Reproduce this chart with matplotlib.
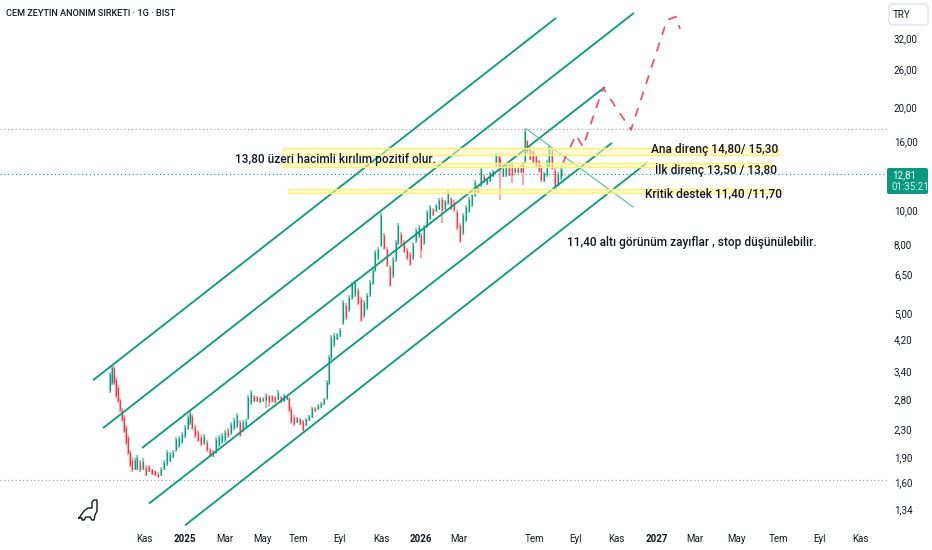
import matplotlib
matplotlib.use("Agg")
import matplotlib.pyplot as plt
from matplotlib.patches import Rectangle, FancyBboxPatch
from matplotlib.lines import Line2D
from matplotlib.transforms import Affine2D

WIDTH, HEIGHT = 932, 550

# price scale of the chart
y_ticks = [32, 26, 20, 16, 10, 8, 6.5, 5, 4.2, 3.4, 2.8, 2.3, 1.9, 1.6, 1.34]
y_labels = ["32,00", "26,00", "20,00", "16,00", "10,00", "8,00", "6,50", "5,00",
            "4,20", "3,40", "2,80", "2,30", "1,90", "1,60", "1,34"]

# time scale, in bar slots from the left edge
x_ticks = [144, 185, 225, 262, 298, 340, 381, 421, 459, 534, 575, 616, 657, 695, 737, 778, 819, 860]
x_labels = ["Kas", "2025", "Mar", "May", "Tem", "Eyl", "Kas", "2026", "Mar",
            "Tem", "Eyl", "Kas", "2027", "Mar", "May", "Tem", "Eyl", "Kas"]

candle_x = [110, 112, 114, 116, 118, 120, 122, 124, 126, 128,
            130, 132, 135, 137, 140, 143, 146, 149, 152, 155,
            158, 161, 164, 167, 170, 173, 176, 179, 182, 185,
            188, 190, 192, 195, 198, 201, 204, 207, 210, 213,
            216, 219, 222, 225, 228, 231, 234, 237, 240, 243,
            246, 248, 251, 254, 257, 260, 263, 266, 269, 272,
            275, 278, 281, 284, 287, 289, 291, 294, 297, 300,
            303, 306, 309, 312, 315, 318, 321, 324, 327, 329,
            331, 334, 337, 340, 343, 346, 349, 352, 355, 358,
            361, 364, 367, 370, 373, 375, 378, 381, 384, 387,
            390, 393, 396, 398, 401, 404, 407, 410, 413, 416,
            419, 421, 424, 427, 430, 433, 436, 439, 442, 445,
            448, 451, 454, 457, 460, 463, 466, 469, 472, 475,
            478, 481, 484, 487, 490, 493, 496, 499, 500, 503,
            506, 509, 512, 515, 518, 521, 523, 525, 527, 530,
            533, 536, 539, 541, 544, 547, 549, 552, 555, 558,
            561, 562]
candle_high = [3.37, 3.53, 3.51, 3.26, 3.09, 2.83, 2.65, 2.52, 2.36, 2.20,
               1.99, 1.90, 1.89, 1.93, 1.86, 1.89, 1.80, 1.80, 1.76, 1.74,
               1.72, 1.78, 1.86, 1.99, 1.97, 1.99, 2.17, 2.19, 2.25, 2.36,
               2.52, 2.59, 2.54, 2.36, 2.28, 2.20, 2.22, 2.13, 2.02, 1.99,
               2.17, 2.20, 2.23, 2.28, 2.31, 2.41, 2.47, 2.56, 2.44, 2.44,
               2.45, 2.89, 2.99, 2.89, 2.87, 2.85, 2.85, 2.93, 2.89, 2.89,
               2.87, 2.99, 2.87, 2.91, 2.87, 2.85, 2.67, 2.52, 2.49, 2.47,
               2.44, 2.47, 2.52, 2.67, 2.67, 2.72, 2.76, 2.83, 3.19, 3.78,
               4.33, 4.39, 4.39, 4.53, 5.48, 5.37, 5.66, 6.19, 6.27, 5.94,
               5.59, 5.48, 5.74, 6.27, 6.79, 7.67, 7.82, 9.84, 8.60, 7.82,
               6.93, 7.31, 8.20, 9.20, 8.66, 8.20, 7.77, 7.57, 8.09, 8.90,
               9.08, 8.60, 9.08, 10.04, 10.39, 10.18, 10.46, 10.89, 10.96, 10.75,
               11.49, 10.96, 10.75, 10.04, 9.20, 9.84, 10.39, 10.96, 11.26, 12.30,
               11.73, 13.42, 12.72, 12.47, 12.98, 13.15, 14.75, 14.55, 14.36, 13.42,
               13.78, 13.78, 13.87, 13.42, 13.42, 13.60, 13.87, 17.33, 16.10, 15.35,
               15.05, 14.55, 14.07, 13.60, 12.98, 14.07, 15.56, 15.25, 13.33, 12.98,
               13.42, 13.60]
candle_low = [2.93, 3.09, 3.09, 2.83, 2.74, 2.57, 2.41, 2.23, 2.06, 1.93,
              1.78, 1.72, 1.74, 1.74, 1.72, 1.74, 1.67, 1.72, 1.69, 1.67,
              1.65, 1.67, 1.74, 1.79, 1.84, 1.89, 1.97, 2.02, 2.07, 2.16,
              2.28, 2.36, 2.28, 2.16, 2.10, 2.05, 2.06, 1.97, 1.91, 1.90,
              1.94, 2.03, 2.07, 2.10, 2.16, 2.20, 2.28, 2.31, 2.17, 2.25,
              2.31, 2.44, 2.70, 2.76, 2.76, 2.74, 2.76, 2.65, 2.67, 2.76,
              2.74, 2.79, 2.74, 2.76, 2.79, 2.57, 2.38, 2.34, 2.39, 2.36,
              2.26, 2.34, 2.42, 2.47, 2.57, 2.61, 2.65, 2.70, 2.79, 3.09,
              3.66, 3.99, 4.18, 4.27, 4.63, 4.79, 5.05, 5.48, 5.59, 5.30,
              4.72, 4.85, 5.12, 5.59, 6.06, 6.61, 7.17, 7.82, 7.67, 6.84,
              5.98, 6.35, 7.07, 7.93, 7.93, 7.51, 7.17, 6.88, 7.17, 8.04,
              8.32, 7.26, 7.93, 8.90, 9.39, 9.65, 9.91, 10.04, 9.20, 10.04,
              10.39, 10.04, 9.91, 8.78, 8.04, 8.49, 9.26, 9.84, 10.25, 10.96,
              11.26, 11.73, 12.05, 11.89, 12.13, 12.55, 13.42, 13.33, 10.75, 12.55,
              12.55, 12.63, 12.05, 12.89, 12.89, 12.89, 11.89, 13.78, 14.75, 14.07,
              13.78, 13.42, 12.98, 12.13, 12.13, 12.55, 13.42, 13.15, 11.65, 11.81,
              12.30, 12.63]
candle_open = [2.97, 3.13, 3.46, 3.21, 3.05, 2.79, 2.61, 2.49, 2.33, 2.17,
               1.97, 1.87, 1.76, 1.76, 1.84, 1.76, 1.78, 1.79, 1.75, 1.73,
               1.70, 1.68, 1.75, 1.81, 1.85, 1.90, 1.99, 2.05, 2.10, 2.19,
               2.31, 2.39, 2.50, 2.33, 2.25, 2.17, 2.09, 2.10, 2.01, 1.98,
               1.97, 2.06, 2.10, 2.13, 2.28, 2.23, 2.31, 2.34, 2.41, 2.28,
               2.34, 2.47, 2.74, 2.87, 2.85, 2.76, 2.83, 2.79, 2.87, 2.87,
               2.85, 2.81, 2.85, 2.77, 2.81, 2.83, 2.63, 2.49, 2.41, 2.45,
               2.42, 2.36, 2.44, 2.49, 2.65, 2.63, 2.67, 2.72, 2.83, 3.13,
               3.71, 4.04, 4.21, 4.30, 4.69, 5.30, 5.12, 5.55, 5.66, 5.86,
               5.52, 4.92, 5.19, 5.66, 6.14, 6.70, 7.26, 7.93, 8.49, 7.72,
               6.84, 6.43, 7.17, 8.04, 8.55, 8.09, 7.67, 7.46, 7.26, 8.14,
               8.43, 8.49, 8.04, 9.02, 9.52, 10.11, 9.98, 10.11, 10.82, 10.11,
               10.53, 10.89, 10.60, 9.91, 9.08, 8.60, 9.39, 9.98, 10.39, 11.11,
               11.65, 11.89, 12.63, 11.97, 12.22, 12.63, 13.60, 14.45, 14.16, 12.63,
               12.72, 13.69, 13.69, 12.98, 13.33, 12.98, 13.69, 13.97, 15.99, 15.25,
               14.95, 14.45, 13.97, 13.51, 12.22, 12.72, 13.60, 15.05, 13.15, 11.97,
               12.47, 12.72]
candle_close = [3.32, 3.49, 3.13, 2.87, 2.77, 2.61, 2.44, 2.26, 2.09, 1.95,
                1.80, 1.74, 1.86, 1.90, 1.74, 1.85, 1.69, 1.73, 1.70, 1.68,
                1.66, 1.75, 1.84, 1.97, 1.94, 1.97, 2.14, 2.16, 2.22, 2.33,
                2.49, 2.56, 2.31, 2.19, 2.13, 2.07, 2.19, 1.99, 1.94, 1.91,
                2.14, 2.17, 2.20, 2.25, 2.19, 2.38, 2.44, 2.52, 2.20, 2.41,
                2.42, 2.85, 2.95, 2.77, 2.77, 2.83, 2.77, 2.89, 2.76, 2.77,
                2.76, 2.95, 2.76, 2.89, 2.85, 2.61, 2.41, 2.38, 2.47, 2.38,
                2.28, 2.45, 2.50, 2.65, 2.59, 2.70, 2.74, 2.81, 3.15, 3.73,
                4.27, 4.33, 4.36, 4.47, 5.41, 4.85, 5.59, 6.10, 6.19, 5.37,
                4.79, 5.41, 5.66, 6.19, 6.70, 7.57, 7.72, 9.71, 7.77, 6.93,
                6.06, 7.21, 8.09, 9.08, 8.04, 7.62, 7.26, 6.98, 7.98, 8.78,
                8.96, 7.67, 8.96, 9.91, 10.25, 9.71, 10.39, 10.75, 10.04, 10.68,
                11.34, 10.18, 10.04, 8.90, 8.14, 9.71, 10.25, 10.82, 11.11, 12.13,
                11.34, 13.24, 12.13, 12.38, 12.89, 13.06, 14.55, 13.51, 13.15, 13.33,
                13.60, 12.72, 12.72, 13.33, 12.98, 13.51, 12.98, 17.10, 14.85, 14.16,
                13.87, 13.51, 13.06, 12.30, 12.89, 13.87, 15.35, 13.33, 11.81, 12.81,
                13.24, 12.81]

last_price = 12.81
price_lines = [17.3, 1.63]

# channel lines: start x, start price, end x, end price
channel_x0 = [93, 103, 142, 149, 185]
channel_p0 = [3.19, 2.31, 2.02, 1.39, 1.20]
channel_x1 = [556, 634, 605, 612, 647]
channel_p1 = [36.6, 37.87, 23.0, 15.78, 13.8]

# thin falling line from the top
fall_x = [526, 633]
fall_p = [17.36, 10.25]

# red projected path
proj_x = [563, 576, 583, 603, 631, 667, 676, 680]
proj_p = [13.8, 16.65, 15.35, 22.84, 17.22, 36.1, 36.9, 34.0]

# yellow zones
zone_x0 = [283, 283, 288]
zone_x1 = [778, 770, 780]
zone_lo = [14.55, 13.45, 11.25]
zone_hi = [15.2, 13.8, 11.6]

notes = ["13,80 üzeri hacimli kırılım pozitif olur.", "Ana direnç 14,80/ 15,30",
         "İlk direnç 13,50 / 13,80", "Kritik destek 11,40 /11,70",
         "11,40 altı görünüm zayıflar , stop düşünülebilir."]
note_x = [235, 651, 655, 645, 567]
note_p = [14.07, 15.05, 13.1, 11.2, 8.04]

GREEN = "#089981"
RED = "#f23645"

plt.rcParams["font.family"] = ["Roboto", "DejaVu Sans"]

fig = plt.figure(figsize=(WIDTH / 100, HEIGHT / 100), dpi=100)
ax = fig.add_axes([0, 24 / 550, 887 / 932, 526 / 550])
ax.set_yscale("log")
ax.set_xlim(0, 887)
ax.set_ylim(1.195, 41.3)

up = [c >= o for o, c in zip(candle_open, candle_close)]
wick_colors = ["#8ccfc0" if u else "#f9a9ae" for u in up]
body_colors = [GREEN if u else RED for u in up]
ax.vlines(candle_x, candle_low, candle_high, colors=wick_colors, lw=1.6, zorder=2)
ax.vlines(candle_x, candle_open, candle_close, colors=body_colors, lw=0.8, zorder=2.1)

for p in price_lines:
    ax.axhline(p, color="#a3a6af", lw=0.9, ls=(0, (1, 2)), zorder=1)
ax.axhline(last_price, color=GREEN, lw=0.8, ls=(0, (1, 2.5)), zorder=1)

for x0, p0, x1, p1 in zip(channel_x0, channel_p0, channel_x1, channel_p1):
    ax.plot([x0, x1], [p0, p1], color="#0f9b7f", lw=1.35, zorder=3, solid_capstyle="butt")
ax.plot(fall_x, fall_p, color="#5fb9a6", lw=0.8, zorder=3)
ax.plot(proj_x, proj_p, color="#f0546a", lw=1.3, ls=(0, (5, 4.5)), zorder=3)

for x0, x1, lo, hi in zip(zone_x0, zone_x1, zone_lo, zone_hi):
    ax.add_patch(Rectangle((x0, lo), x1 - x0, hi - lo, facecolor="#fff9b0", alpha=0.55,
                           edgecolor="none", zorder=4))
    ax.add_patch(Rectangle((x0, lo), x1 - x0, hi - lo, facecolor="none",
                           edgecolor="#fff176", lw=1, zorder=4))

for t, x, p in zip(notes, note_x, note_p):
    ax.text(x, p, t, fontsize=8.6, fontweight="medium", color="#131722",
            ha="left", va="center", zorder=6)

for s in ax.spines.values():
    s.set_visible(False)
ax.yaxis.tick_right()
ax.set_yticks(y_ticks, y_labels)
ax.minorticks_off()
ax.set_xticks(x_ticks, x_labels)
ax.tick_params(axis="y", length=0, pad=5, labelsize=7, labelcolor="#131722")
ax.tick_params(axis="x", length=0, pad=6, labelsize=7, labelcolor="#131722")
for lab in ax.get_xticklabels():
    if lab.get_text().startswith("20"):
        lab.set_fontweight("bold")

# things outside the plot area are placed in image pixels
px = Affine2D().scale(1 / WIDTH, -1 / HEIGHT).translate(0, 1) + fig.transFigure

fig.text(6 / WIDTH, 1 - 14 / HEIGHT, "CEM ZEYTIN ANONIM SIRKETI · 1G · BIST", fontsize=6.6,
         fontweight="medium", color="#131722", va="center")

fig.add_artist(FancyBboxPatch((889, 4), 39, 21, boxstyle="round,pad=0,rounding_size=3",
                              facecolor="white", edgecolor="#e0e3eb", lw=1, transform=px))
fig.text(902 / WIDTH, 1 - 15 / HEIGHT, "TRY", fontsize=7, color="#131722", ha="center", va="center")

fig.add_artist(FancyBboxPatch((887, 168), 41, 26, boxstyle="round,pad=0,rounding_size=2",
                              facecolor=GREEN, edgecolor="none", transform=px))
fig.text(892 / WIDTH, 1 - 175 / HEIGHT, "12,81", fontsize=7, color="white", va="center")
fig.text(892 / WIDTH, 1 - 187 / HEIGHT, "01:35:21", fontsize=7, color="#d5efe9", va="center")

# small dinosaur mark
logo_x = [79, 84, 88, 92, 92, 94, 97, 97, 95, 94, 92, 90, 86, 84, 82, 82, 79]
logo_y = [518, 511, 508, 508, 502, 500, 500, 511, 515, 520, 520, 517, 517, 520, 520, 518, 518]
fig.add_artist(Line2D(logo_x, logo_y, color="#131722", lw=1.0, transform=px))

fig.savefig("out.png", dpi=100)
plt.close(fig)
